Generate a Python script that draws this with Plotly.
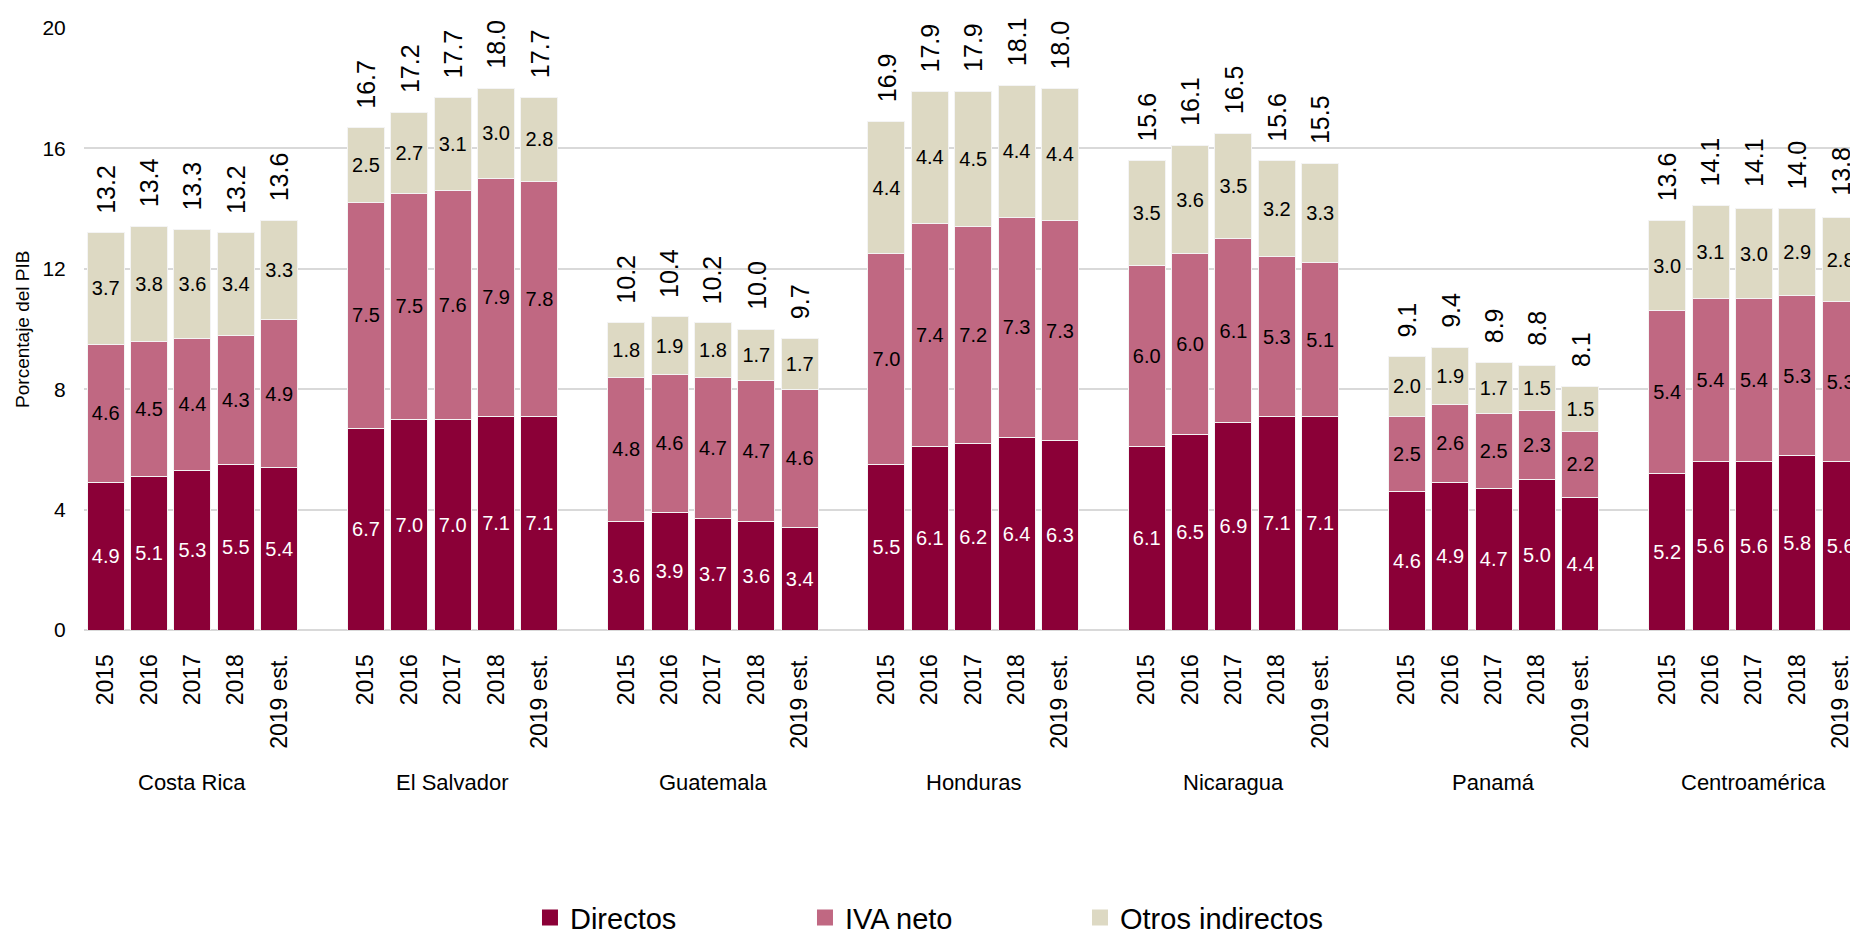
import plotly.graph_objects as go

# Datos (porcentaje del PIB)
paises = ["Costa Rica", "El Salvador", "Guatemala", "Honduras", "Nicaragua", "Panamá", "Centroamérica"]
anios = ["2015", "2016", "2017", "2018", "2019 est."]

directos = [
    [4.9, 5.1, 5.3, 5.5, 5.4],
    [6.7, 7.0, 7.0, 7.1, 7.1],
    [3.6, 3.9, 3.7, 3.6, 3.4],
    [5.5, 6.1, 6.2, 6.4, 6.3],
    [6.1, 6.5, 6.9, 7.1, 7.1],
    [4.6, 4.9, 4.7, 5.0, 4.4],
    [5.2, 5.6, 5.6, 5.8, 5.6],
]
iva_neto = [
    [4.6, 4.5, 4.4, 4.3, 4.9],
    [7.5, 7.5, 7.6, 7.9, 7.8],
    [4.8, 4.6, 4.7, 4.7, 4.6],
    [7.0, 7.4, 7.2, 7.3, 7.3],
    [6.0, 6.0, 6.1, 5.3, 5.1],
    [2.5, 2.6, 2.5, 2.3, 2.2],
    [5.4, 5.4, 5.4, 5.3, 5.3],
]
otros_indirectos = [
    [3.7, 3.8, 3.6, 3.4, 3.3],
    [2.5, 2.7, 3.1, 3.0, 2.8],
    [1.8, 1.9, 1.8, 1.7, 1.7],
    [4.4, 4.4, 4.5, 4.4, 4.4],
    [3.5, 3.6, 3.5, 3.2, 3.3],
    [2.0, 1.9, 1.7, 1.5, 1.5],
    [3.0, 3.1, 3.0, 2.9, 2.8],
]
totales = [
    [13.2, 13.4, 13.3, 13.2, 13.6],
    [16.7, 17.2, 17.7, 18.0, 17.7],
    [10.2, 10.4, 10.2, 10.0, 9.7],
    [16.9, 17.9, 17.9, 18.1, 18.0],
    [15.6, 16.1, 16.5, 15.6, 15.5],
    [9.1, 9.4, 8.9, 8.8, 8.1],
    [13.6, 14.1, 14.1, 14.0, 13.8],
]

FONT = "Liberation Sans, Arial, sans-serif"
slot = len(anios) + 1  # one blank slot between countries

# x positions: index of each bar on the axis
xs, ticks = [], []
for g in range(len(paises)):
    for j, a in enumerate(anios):
        xs.append(g * slot + j)
        ticks.append(a)


def flat(rows):
    return [v for r in rows for v in r]


series = [
    ("Directos", directos, "#8B0037", "white"),
    ("IVA neto", iva_neto, "#C06882", "black"),
    ("Otros indirectos", otros_indirectos, "#DDD9C3", "black"),
]

fig = go.Figure()
for name, rows, color, txtcolor in series:
    vals = flat(rows)
    fig.add_trace(go.Bar(
        x=xs, y=vals, name=name, showlegend=False,
        marker=dict(color=color, line=dict(color="#f4f4f4", width=1)),
        text=[f"{v:.1f}" for v in vals],
        textposition="inside", insidetextanchor="middle", textangle=0,
        constraintext="none",
        textfont=dict(family=FONT, size=20, color=txtcolor),
    ))
    # legend entry with a bigger square swatch
    fig.add_trace(go.Scatter(
        x=[None], y=[None], mode="markers", name=name,
        marker=dict(symbol="square", size=17, color=color),
    ))

# totals above each bar
for x, t in zip(xs, flat(totales)):
    fig.add_annotation(x=x, y=t, text=f"{t:.1f}", textangle=-90, showarrow=False,
                       yanchor="bottom", yshift=17,
                       font=dict(family=FONT, size=25, color="black"))

# country labels
for g, p in enumerate(paises):
    fig.add_annotation(x=g * slot + 2, y=-0.254, yref="paper", text=p, showarrow=False,
                       yanchor="middle", font=dict(family=FONT, size=22, color="black"))

fig.add_annotation(x=-0.035, y=0.5, xref="paper", yref="paper", text="Porcentaje del PIB",
                   textangle=-90, showarrow=False, xanchor="center", yanchor="middle",
                   font=dict(family=FONT, size=19, color="black"))

fig.update_layout(
    width=1858, height=929,
    barmode="stack", bargap=0.147,
    plot_bgcolor="white", paper_bgcolor="white",
    margin=dict(l=76, r=8, t=20, b=307, autoexpand=False),
    font=dict(family=FONT, color="black"),
    xaxis=dict(range=[-0.5, 40.4], tickvals=xs, ticktext=ticks, tickangle=-90,
               tickfont=dict(size=23), ticks="outside", ticklen=14, tickcolor="rgba(0,0,0,0)",
               showgrid=False, zeroline=False, showline=False),
    yaxis=dict(range=[0, 20], dtick=4, showgrid=True, gridcolor="#D9D9D9", gridwidth=1.5,
               zeroline=True, zerolinecolor="#D9D9D9", zerolinewidth=1.5,
               tickfont=dict(size=21), ticks="outside", ticklen=13, tickcolor="rgba(0,0,0,0)"),
    legend=dict(orientation="h", x=0.2514, xanchor="left", y=-0.478, yanchor="middle",
                entrywidth=230, entrywidthmode="pixels", traceorder="normal",
                itemsizing="trace",
                font=dict(size=29, family=FONT)),
)

fig.write_html("out.html")
